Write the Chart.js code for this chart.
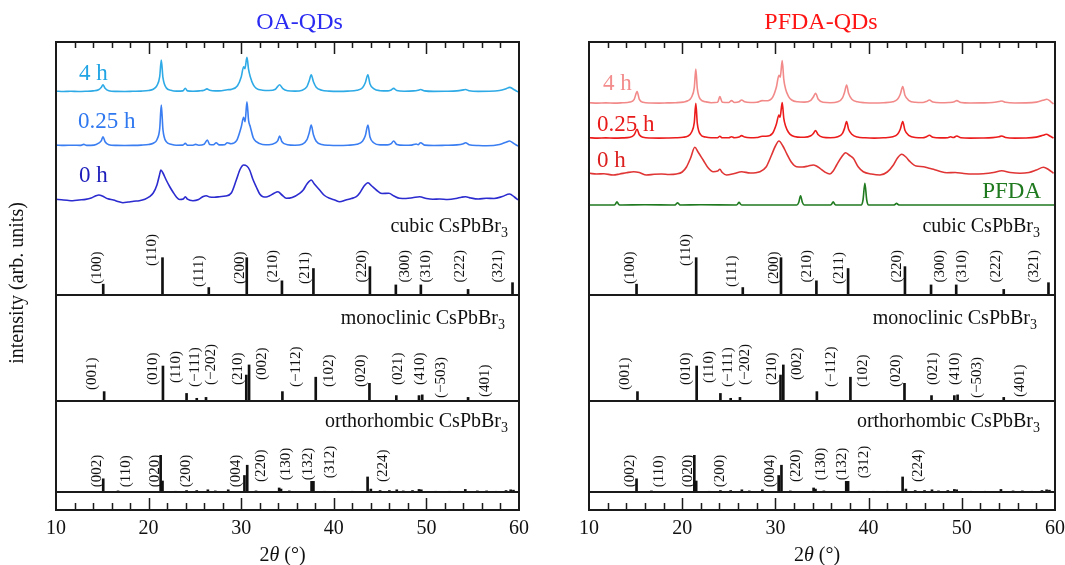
<!DOCTYPE html>
<html>
<head>
<meta charset="utf-8">
<script src="https://cdn.jsdelivr.net/npm/chart.js@4.4.1/dist/chart.umd.min.js"></script>
<style>
	body { margin: 0; background: #fff; overflow: hidden; }
	.panels { position: relative; width: 1065px; height: 565px; overflow: hidden; }
	.panels canvas { position: absolute; top: 0; display: block; }
	#chartOA { left: 0; width: 545px; height: 565px; }
	#chartPFDA { left: 545px; width: 527px; height: 565px; }
</style>
</head>
<body>
<div class="panels">
	<canvas id="chartOA" width="545" height="565"></canvas>
	<canvas id="chartPFDA" width="527" height="565"></canvas>
</div>
<script>
// measured patterns: [2theta (deg), intensity above baseline (a.u.)]
var oa4h = [[10.0,0.5],[10.8,0.2],[11.6,0.4],[12.4,0.2],[13.2,0.4],[14.0,0.8],[14.6,2],[14.9,4.5],[15.07,7],[15.3,3.5],[15.7,1],[16.5,0.3],[17.4,0.2],[18.3,0.4],[19.2,0.6],[20.0,1.2],[20.5,2.5],[20.9,6],[21.2,15],[21.37,31.7],[21.55,14],[21.9,4],[22.4,1.5],[23.0,0.6],[23.7,0.8],[23.96,3.5],[24.2,0.8],[24.8,0.5],[25.5,0.8],[26.0,1.5],[26.3,2.8],[26.6,1.5],[27.2,0.8],[27.9,1],[28.5,2],[28.93,2.3],[29.6,6],[30.01,15],[30.26,25],[30.4,23],[30.62,34.3],[30.8,22],[30.98,15],[31.3,7],[31.63,3.3],[32.3,1.5],[33.0,1.2],[33.7,2.5],[34.15,7],[34.5,3],[35.0,1],[35.8,0.6],[36.6,1.5],[37.1,5],[37.35,11],[37.56,17],[37.8,10],[38.1,4.5],[38.7,1.5],[39.5,0.6],[40.5,0.3],[41.5,0.6],[42.5,1.5],[43.1,4],[43.4,9],[43.68,17],[43.9,8],[44.3,3],[45.0,1],[45.8,0.8],[46.2,1.8],[46.46,3.3],[46.8,1.2],[47.6,0.5],[48.6,0.8],[49.1,1.5],[49.37,2.2],[49.8,0.8],[50.8,0.3],[52.0,0.4],[53.3,0.8],[54.0,1.8],[54.23,2.2],[54.6,1],[55.6,0.3],[56.8,0.4],[57.9,1.2],[58.6,3],[58.99,4.3],[59.4,2.5],[59.8,0.3],[60.0,-0.5]];
var oa025h = [[10.0,0.6],[10.9,0.3],[11.8,0.5],[12.6,0.3],[13.0,1.3],[13.3,0.3],[14.1,0.6],[14.6,2.5],[14.9,5],[15.07,9],[15.3,4],[15.7,1],[16.5,0.3],[17.4,0.2],[18.3,0.3],[19.2,0.6],[20.0,1.2],[20.5,2.5],[20.9,6],[21.2,17],[21.37,40.7],[21.55,16],[21.9,4],[22.4,1.5],[23.0,0.5],[23.7,0.6],[23.96,2.3],[24.2,0.5],[24.8,0.5],[25.08,1.3],[25.4,0.5],[26.0,1.5],[26.34,5.7],[26.6,1.2],[27.0,1],[27.3,3],[27.6,0.8],[28.2,1],[28.5,3],[28.9,2],[29.5,5],[30.01,19],[30.26,28.3],[30.42,24],[30.62,44],[30.8,25],[30.98,19],[31.3,8],[31.63,4],[32.3,1.2],[33.0,1],[33.7,2.8],[33.95,5],[34.15,9.7],[34.4,4],[35.0,1],[35.8,0.5],[36.6,1.5],[37.1,6],[37.35,13],[37.56,20.7],[37.8,11],[38.1,4.5],[38.7,1.2],[39.5,0.4],[40.5,0.2],[41.5,0.5],[42.5,1.5],[43.1,4.5],[43.4,10],[43.69,20.7],[43.9,9],[44.3,3],[45.0,0.8],[45.8,0.8],[46.2,2],[46.46,4.7],[46.8,1.2],[47.6,0.4],[48.4,0.6],[48.9,1.7],[49.1,1],[49.37,3],[49.8,0.6],[50.8,0.2],[52.0,0.4],[53.3,0.8],[54.0,2],[54.23,3],[54.6,1],[55.6,0.2],[56.5,0],[57.9,1.2],[58.6,3.5],[58.98,4.7],[59.4,2.5],[59.8,0.2],[60.0,-0.3]];
var oa0h = [[10.0,0.7],[10.6,0.2],[11.2,-0.3],[11.8,-0.7],[12.5,0],[13.2,0.6],[13.8,2],[14.3,4.2],[14.64,5],[15.0,4],[15.6,1.2],[16.2,0],[16.8,-1.8],[17.23,-2.7],[17.8,-2],[18.4,-1.2],[19.0,-0.7],[19.6,0.8],[20.1,3.3],[20.5,7],[20.9,15],[21.15,24],[21.33,30],[21.55,27],[21.9,20],[22.3,13],[22.63,8],[23.0,3],[23.35,0.5],[23.75,1],[23.96,3.3],[24.2,0.8],[24.79,-0.7],[25.4,0.5],[25.9,3.5],[26.23,4.3],[26.6,3],[27.1,2.8],[27.67,3.3],[28.3,4],[28.93,7],[29.47,20],[29.9,31],[30.26,35],[30.6,34],[30.91,30],[31.25,21],[31.63,13],[32.0,6],[32.35,3.3],[32.7,3],[33.07,4.3],[33.5,6.5],[33.97,8.3],[34.4,5],[34.87,1.7],[35.5,2.5],[36.31,6.7],[36.7,10],[37.1,16],[37.57,20],[37.9,16],[38.47,10],[39.0,4.5],[39.55,1.7],[40.1,0],[40.63,-1.7],[41.3,0],[41.9,1.5],[42.43,3.3],[42.8,7],[43.2,13],[43.69,17.3],[44.1,14],[44.59,10],[45.2,6.5],[45.95,6.7],[46.5,4],[47.11,1.7],[47.8,1.5],[48.5,2.2],[49.27,3.3],[50.0,1.5],[50.7,0.8],[51.43,1],[52.3,0.5],[53.2,1.5],[53.8,2.8],[54.23,3.3],[54.8,2],[55.6,1],[56.46,1.7],[57.3,1.5],[58.2,3.5],[58.98,6],[59.5,3],[59.88,0]];

var pf4h = [[10.0,0.6],[10.9,0.2],[11.8,0.4],[12.7,0.2],[13.6,0.5],[14.4,1.2],[14.85,4],[15.16,11.7],[15.4,4],[15.8,1],[16.6,0.3],[17.5,0.2],[18.4,0.4],[19.3,0.6],[20.1,1.2],[20.6,2.5],[21.0,6],[21.3,16],[21.46,34.3],[21.62,15],[21.95,4],[22.5,1.5],[23.1,0.6],[23.8,1],[24.04,6.7],[24.3,1],[25.0,0.8],[25.29,2.7],[25.6,0.8],[26.1,1.5],[26.37,3.3],[26.7,1.5],[27.3,0.8],[28.0,1],[28.59,2.7],[29.0,2.5],[29.7,6],[30.1,16],[30.38,28],[30.52,26],[30.73,42.7],[30.9,24],[31.1,14],[31.4,7],[31.75,3.3],[32.4,1.5],[33.1,1.2],[33.8,3],[34.05,6],[34.31,10],[34.6,4],[35.1,1],[35.9,0.6],[36.7,1.5],[37.2,5.5],[37.42,11],[37.64,18.3],[37.85,10],[38.2,4],[38.8,1.5],[39.6,0.6],[40.6,0.3],[41.6,0.6],[42.6,1.5],[43.1,4],[43.4,9],[43.66,16.7],[43.9,8],[44.3,3],[45.0,1],[45.8,0.8],[46.2,1.8],[46.52,3.3],[46.9,1.2],[47.7,0.5],[48.6,0.8],[49.2,1.6],[49.46,2.7],[49.9,0.8],[50.9,0.3],[52.1,0.4],[53.3,0.8],[54.0,1.8],[54.29,2.3],[54.7,1],[55.7,0.3],[56.9,0.4],[58.0,1.2],[58.7,3],[59.13,4],[59.5,2],[59.84,-0.7]];
var pf025h = [[10.0,0.5],[10.9,0.2],[11.8,0.4],[12.7,0.2],[13.6,0.4],[14.4,1],[14.85,3.5],[15.16,9],[15.4,3.5],[15.8,1],[16.6,0.3],[17.5,0.2],[18.4,0.3],[19.3,0.5],[20.1,1],[20.6,2.2],[21.0,6],[21.3,16],[21.46,35],[21.62,15],[21.95,4],[22.5,1.2],[23.1,0.5],[23.8,0.6],[24.04,2],[24.3,0.5],[25.0,0.5],[25.29,1.5],[25.6,0.5],[26.1,1.2],[26.37,2.7],[26.7,1.2],[27.3,0.6],[28.0,0.8],[28.59,2],[29.0,2],[29.7,5],[30.1,14],[30.38,23.3],[30.5,21],[30.73,35.7],[30.9,20],[31.1,12],[31.4,6],[31.75,2.8],[32.4,1.2],[33.1,1],[33.8,2.5],[34.05,4.5],[34.31,7.7],[34.6,3.5],[35.1,1],[35.9,0.5],[36.7,1.5],[37.2,5],[37.42,10],[37.64,16.7],[37.85,9],[38.2,4],[38.8,1.2],[39.6,0.5],[40.6,0.2],[41.6,0.5],[42.6,1.5],[43.1,4],[43.4,9],[43.66,16.7],[43.9,8],[44.3,3],[45.0,0.8],[45.8,0.6],[46.2,1.6],[46.52,3],[46.9,1],[47.7,0.4],[48.5,0.6],[48.8,1.5],[49.1,0.8],[49.46,2.3],[49.9,0.6],[50.9,0.2],[52.1,0.3],[53.3,0.7],[54.0,1.6],[54.29,2.3],[54.7,0.8],[55.7,0.2],[56.9,0.3],[58.0,1.2],[58.7,3],[59.06,4],[59.5,2],[59.84,0.3]];
var pf0h = [[10.08,0.7],[10.8,0],[11.6,0.3],[12.58,-1],[13.3,0],[14.0,1.2],[14.8,2.3],[15.4,1.5],[16.16,-1],[17.0,-0.3],[17.8,0],[18.6,-0.5],[19.38,0],[20.0,2],[20.46,7],[20.9,16],[21.35,26.7],[21.7,22],[22.25,14],[22.8,6],[23.32,2.3],[23.8,3],[24.04,4.7],[24.3,1.5],[24.75,-1],[25.6,0.5],[26.37,2.3],[27.3,1],[28.33,2.3],[29.0,7],[29.59,19],[30.0,28],[30.38,33],[30.8,28],[31.2,20.7],[31.7,12],[32.27,7.3],[32.9,7],[33.53,8],[34.06,9],[34.4,8],[34.78,5.7],[35.3,2],[35.85,0],[36.2,3],[36.57,9],[37.1,17],[37.54,21.3],[37.9,19],[38.36,15.7],[38.9,7],[39.43,2.3],[40.3,0],[41.22,-1],[42.0,2],[42.66,9],[43.1,16],[43.55,19.7],[44.0,17],[44.45,12.3],[45.1,8],[45.88,7.3],[46.4,6],[46.96,4.7],[47.7,2.5],[48.39,1.3],[49.3,1.5],[50.2,0.5],[51.25,0],[52.3,0.3],[53.4,1.5],[54.29,3.3],[55.2,1.5],[56.26,0.7],[57.2,1.5],[58.0,4],[58.77,6.7],[59.3,4.5],[59.84,0.7]];
var pfda = [[10.0,0],[12.7,0],[12.85,1],[13.0,3.3],[13.15,1],[13.3,0],[16.0,0.3],[19.2,0],[19.35,1],[19.5,2.3],[19.65,1],[19.8,0],[22.0,0.3],[25.8,0],[25.95,1],[26.1,2.7],[26.25,1],[26.4,0],[32.3,0],[32.5,2.5],[32.7,9.3],[32.9,2.5],[33.1,0],[35.9,0],[36.05,1],[36.2,3.3],[36.35,1],[36.5,0],[39.2,0],[39.4,5],[39.6,21.7],[39.8,5],[40.0,0],[42.7,0],[42.85,0.6],[43.0,1.7],[43.15,0.6],[43.3,0],[60.0,0]];

// reference patterns (relative intensity, %)
var cubicHkl = ['(100)', '(110)', '(111)', '(200)', '(210)', '(211)', '(220)', '(300)', '(310)', '(222)', '(321)'];
var cubicAngle = [15.1, 21.5, 26.5, 30.6, 34.4, 37.8, 43.9, 46.7, 49.4, 54.5, 59.3];
var cubicIntensity = [29, 100, 20, 100, 38, 71, 76, 27, 27, 15, 33];

var monoHkl = ['(001)', '(010)', '(110)', '(\u2212111)', '(\u2212202)', '(210)', '(002)', '(\u2212112)', '(102)', '(020)', '(021)', '(410)', '(\u2212503)', '(401)'];
var monoAngle = [15.2, 21.55, 24.1, 25.2, 26.2, 30.55, 30.85, 34.45, 38.05, 43.85, 46.75, 49.2, 49.55, 54.5];
var monoIntensity = [26, 97, 21, 7.5, 10, 72, 100, 26, 66, 49, 15, 15, 17, 10];

var orthoHkl = ['(002)', '(110)', '(020)', '(200)', '(004)', '(220)', '(130)', '(132)', '(312)', '(224)'];
var orthoAngle = [15.1, 16.7, 21.3, 21.5, 22.9, 24.1, 25.2, 26.4, 27.2, 28.6, 30.35, 30.65, 31.6, 34.1, 34.3, 35.2, 37.6, 37.8, 39.0, 40.5, 42.0, 43.65, 44.0, 45.0, 46.0, 46.8, 47.5, 48.5, 49.2, 49.45, 51.0, 52.5, 54.2, 55.5, 56.5, 57.5, 58.6, 59.1, 59.4];
var orthoIntensity = [36, 3, 100, 30, 2, 4, 4, 6, 3, 6, 45, 73, 3, 11, 8, 3, 29, 29, 2, 2, 2, 41, 8, 4, 4, 6, 3, 4, 7, 6, 2, 2, 7, 3, 3, 2, 4, 6, 5];

var xTicks = [10, 20, 30, 40, 50, 60];

var SERIF = "'Liberation Serif', 'Times New Roman', serif";

// where the (hkl) tags sit: centre angle and lift (px) above the pattern baseline
var cubicTagAt = [14.42, 20.4, 25.4, 29.83, 33.42, 36.85, 43.07, 47.65, 49.99, 53.66, 57.72];
var cubicTagLift = [11, 29, 8, 11, 12.5, 11, 12.5, 12.5, 12.5, 12.5, 12.5];
var monoTagAt = [13.92, 20.43, 22.92, 24.97, 26.77, 29.61, 32.28, 35.95, 39.44, 42.97, 46.89, 49.27, 51.61, 56.29];
var monoTagLift = [11, 16, 18, 14, 16, 16, 21, 14, 14, 14, 16, 16, 3, 4];
var orthoTagAt = [14.42, 17.52, 20.65, 24.07, 29.47, 32.17, 34.87, 37.2, 39.55, 45.3];
var orthoTagLift = [4.7, 4.7, 4.7, 4.7, 4.7, 10, 11.7, 11.7, 13.7, 10];

function drawUp(ctx, text, x, y) {
	ctx.save();
	ctx.translate(x, y);
	ctx.rotate(-Math.PI / 2);
	ctx.textAlign = 'left';
	ctx.textBaseline = 'middle';
	ctx.fillText(text, 0, 0);
	ctx.restore();
}

function drawPhase(ctx, name, xRight, yBase) {
	var main = name + ' CsPbBr';
	ctx.font = '14px ' + SERIF;
	var w3 = ctx.measureText('3').width;
	ctx.font = '20px ' + SERIF;
	var w = ctx.measureText(main).width;
	ctx.textAlign = 'left';
	ctx.textBaseline = 'alphabetic';
	ctx.fillText(main, xRight - w3 - w, yBase);
	ctx.font = '14px ' + SERIF;
	ctx.fillText('3', xRight - w3, yBase + 5);
}

function drawTags(ctx, xScale, yBase, hkl, at, lift) {
	ctx.font = '15px ' + SERIF;
	ctx.fillStyle = '#111';
	hkl.forEach((h, i) => {
		drawUp(ctx, h, xScale.getPixelForValue(at[i]), yBase - lift[i]);
	});
}

var xrdFrame = {
	id: 'xrdFrame',
	afterDraw: (chart, args, opts) => {
		var ctx = chart.ctx;
		var area = chart.chartArea;
		var s = chart.scales;
		var cx = (area.left + area.right) / 2;
		ctx.save();

		// frame and the baselines of the three reference patterns
		ctx.strokeStyle = '#1a1a1a';
		ctx.lineWidth = 2;
		ctx.strokeRect(area.left, area.top, area.right - area.left, area.bottom - area.top);
		[s.yCubic.bottom, s.yMono.bottom, s.yOrtho.bottom].forEach(y => {
			ctx.beginPath();
			ctx.moveTo(area.left, y);
			ctx.lineTo(area.right, y);
			ctx.stroke();
		});

		// inward ticks, top and bottom
		ctx.lineWidth = 1.5;
		for (var t = 12; t < 60; t += 2) {
			var px = Math.round(s.x.getPixelForValue(t)) + 0.5;
			var major = t % 10 == 0;
			ctx.beginPath();
			ctx.moveTo(px, area.top);
			ctx.lineTo(px, area.top + (major ? 12 : 6));
			ctx.moveTo(px, area.bottom);
			ctx.lineTo(px, area.bottom - (major ? 12 : 7));
			ctx.stroke();
		}

		// panel title
		ctx.fillStyle = opts.titleColor;
		ctx.font = '24px ' + SERIF;
		ctx.textAlign = 'center';
		ctx.textBaseline = 'alphabetic';
		ctx.fillText(opts.title, cx + opts.titleShift, 29);

		// sample labels next to each curve
		ctx.font = '23px ' + SERIF;
		opts.tags.forEach(tag => {
			ctx.fillStyle = tag.color;
			var y = s.yXrd.getPixelForValue(tag.offset) - tag.lift;
			if (tag.right) {
				ctx.textAlign = 'right';
				ctx.fillText(tag.text, area.right - tag.dx, y);
			} else {
				ctx.textAlign = 'left';
				ctx.fillText(tag.text, area.left + tag.dx, y);
			}
		});

		// reference pattern names and (hkl) tags
		ctx.fillStyle = '#111';
		drawPhase(ctx, 'cubic', area.right - opts.phaseInset, s.yCubic.bottom - 63);
		drawPhase(ctx, 'monoclinic', area.right - opts.phaseInset - 3, s.yCubic.bottom + 29);
		drawPhase(ctx, 'orthorhombic', area.right - opts.phaseInset, s.yMono.bottom + 26);
		drawTags(ctx, s.x, s.yCubic.bottom, cubicHkl, cubicTagAt, cubicTagLift);
		drawTags(ctx, s.x, s.yMono.bottom, monoHkl, monoTagAt, monoTagLift);
		drawTags(ctx, s.x, s.yOrtho.bottom, orthoHkl, orthoTagAt, orthoTagLift);

		// x axis title: 2θ (°)
		ctx.fillStyle = '#111';
		ctx.textAlign = 'left';
		var fN = '20px ' + SERIF;
		var fI = 'italic 20px ' + SERIF;
		ctx.font = fN; var w1 = ctx.measureText('2').width; var w3 = ctx.measureText(' (\u00b0)').width;
		ctx.font = fI; var w2 = ctx.measureText('\u03b8').width;
		var x0 = cx - 5 - (w1 + w2 + w3) / 2;
		ctx.font = fN; ctx.fillText('2', x0, 561);
		ctx.font = fI; ctx.fillText('\u03b8', x0 + w1, 561);
		ctx.font = fN; ctx.fillText(' (\u00b0)', x0 + w1 + w2, 561);

		// y axis title (left panel only)
		if (opts.yTitle) {
			ctx.save();
			ctx.translate(18, 283);
			ctx.rotate(-Math.PI / 2);
			ctx.textAlign = 'center';
			ctx.textBaseline = 'middle';
			ctx.font = '20px ' + SERIF;
			ctx.fillText(opts.yTitle, 0, 0);
			ctx.restore();
		}
		ctx.restore();
	}
};

function curveSet(curve) {
	return {
		type: 'line',
		data: curve.data.map(p => ({ x: p[0], y: p[1] + curve.offset })),
		borderColor: curve.color,
		borderWidth: 1.6,
		pointRadius: 0,
		fill: false,
		cubicInterpolationMode: 'monotone',
		yAxisID: 'yXrd'
	};
}

function stickSet(angles, values, axisId) {
	return {
		type: 'bar',
		data: angles.map((a, i) => ({ x: a, y: values[i] })),
		backgroundColor: '#111',
		borderWidth: 0,
		barThickness: 2,
		grouped: false,
		yAxisID: axisId
	};
}

function makeScales() {
	var hidden = (max, weightPx, order) => ({
		type: 'linear', axis: 'y', position: 'left', display: false,
		min: 0, max: max, stack: 'xrd', stackWeight: weightPx, weight: order
	});
	return {
		x: {
			type: 'linear', min: 10, max: 60, offset: false,
			grid: { display: false, drawTicks: false },
			border: { display: false },
			ticks: {
				stepSize: 10, padding: 7, color: '#111', maxRotation: 0,
				font: { family: SERIF, size: 20 },
				callback: v => xTicks.includes(v) ? String(v) : ''
			},
			afterFit: sc => { sc.height = 55; }
		},
		yXrd: hidden(203, 203, 5),
		yCubic: hidden(134, 50, 4),
		yMono: hidden(294, 106, 3),
		yOrtho: hidden(248, 91, 2),
		yStrip: hidden(1, 18, 1)
	};
}

function makeChart(canvasId, curves, padding, frameOpts) {
	var datasets = curves.map(curveSet);
	datasets.push(stickSet(cubicAngle, cubicIntensity, 'yCubic'));
	datasets.push(stickSet(monoAngle, monoIntensity, 'yMono'));
	datasets.push(stickSet(orthoAngle, orthoIntensity, 'yOrtho'));
	return new Chart(document.getElementById(canvasId).getContext('2d'), {
		type: 'line',
		data: { datasets: datasets },
		options: {
			responsive: false,
			animation: false,
			devicePixelRatio: 1,
			layout: { padding: padding },
			plugins: {
				legend: { display: false },
				tooltip: { enabled: false },
				xrdFrame: frameOpts
			},
			scales: makeScales()
		},
		plugins: [xrdFrame]
	});
}

var oaCurves = [
	{ data: oa4h, color: '#2eaae6', offset: 153.3 },
	{ data: oa025h, color: '#3a7ef2', offset: 99.3 },
	{ data: oa0h, color: '#2b2bcf', offset: 45 }
];
var pfCurves = [
	{ data: pf4h, color: '#f28a8a', offset: 141.7 },
	{ data: pf025h, color: '#ec1c1c', offset: 106.7 },
	{ data: pf0h, color: '#e03535', offset: 71 },
	{ data: pfda, color: '#207a20', offset: 40 }
];

makeChart('chartOA', oaCurves, { left: 56, right: 26, top: 42, bottom: 0 }, {
	title: 'OA-QDs', titleColor: '#2b2bf2', titleShift: 12, phaseInset: 11,
	yTitle: 'intensity (arb. units)',
	tags: [
		{ text: '4 h', color: '#20a4e4', offset: 153.3, lift: 11.7, dx: 23 },
		{ text: '0.25 h', color: '#2f78f0', offset: 99.3, lift: 17.4, dx: 22 },
		{ text: '0 h', color: '#1d1dbb', offset: 45, lift: 18.3, dx: 23 }
	]
});

// the last tick label keeps about 17 px clear on the right, so this canvas runs a little past the page edge
makeChart('chartPFDA', pfCurves, { left: 44, right: 10, top: 42, bottom: 0 }, {
	title: 'PFDA-QDs', titleColor: '#ff1414', titleShift: -1, phaseInset: 15,
	tags: [
		{ text: '4 h', color: '#f38c8c', offset: 141.7, lift: 13.3, dx: 14 },
		{ text: '0.25 h', color: '#e81a1a', offset: 106.7, lift: 7.6, dx: 8 },
		{ text: '0 h', color: '#dc2020', offset: 71, lift: 7.3, dx: 8 },
		{ text: 'PFDA', color: '#1f7a1f', offset: 40, lift: 7, dx: 14, right: true }
	]
});
</script>
</body>
</html>
